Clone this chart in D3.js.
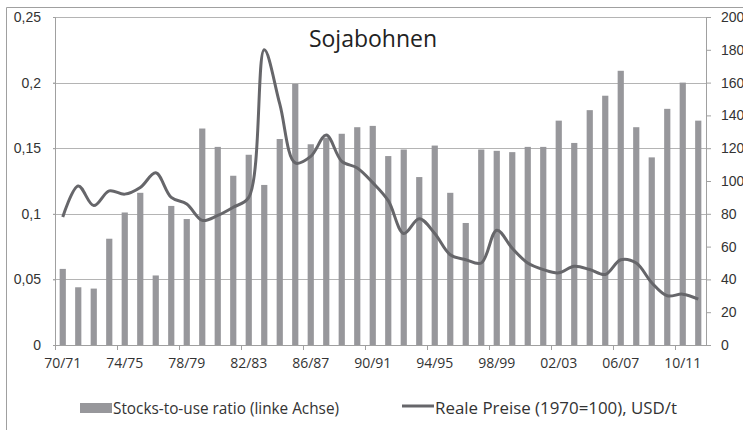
<!DOCTYPE html>
<html>
<head>
<meta charset="utf-8">
<script src="https://cdn.jsdelivr.net/npm/d3@7/dist/d3.min.js"></script>
<style>
    body { margin: 0; background: #fff; }
    svg { display: block; font-family: "Open Sans", "DejaVu Sans", sans-serif; }
</style>
</head>
<body>
<svg id="chart" width="743" height="430"></svg>
<script>
// marketing years 70/71 .. 11/12
const years = d3.range(1970, 2012).map(y => {
    const a = String(y % 100).padStart(2, "0");
    const b = String((y + 1) % 100).padStart(2, "0");
    return a + "/" + b;
});

// stocks-to-use ratio (left axis)
const ratio = [
    0.058, 0.044, 0.043, 0.081, 0.101, 0.116, 0.053, 0.106, 0.096, 0.165,
    0.151, 0.129, 0.145, 0.122, 0.157, 0.199, 0.153, 0.158, 0.161, 0.166,
    0.167, 0.144, 0.149, 0.128, 0.152, 0.116, 0.093, 0.149, 0.148, 0.147,
    0.151, 0.151, 0.171, 0.154, 0.179, 0.190, 0.209, 0.166, 0.143, 0.180,
    0.200, 0.171
];

// real prices (1970=100), USD/t (right axis)
const prices = [
    78, 97, 85, 94, 92, 96, 105, 90, 86, 76,
    79, 84, 90, 180, 147, 111, 115, 128, 112, 108,
    99, 88, 68, 77, 68, 55, 52, 50, 70, 59,
    50, 46, 44, 48, 46, 43, 52, 50, 38, 30,
    31, 28
];

const leftTicks = [0, 0.05, 0.1, 0.15, 0.2, 0.25];
const rightTicks = d3.range(0, 201, 20);
const title = "Sojabohnen";
const legendBars = "Stocks-to-use ratio (linke Achse)";
const legendLine = "Reale Preise (1970=100), USD/t";

const svg = d3.select("#chart");
const margin = {left: 55, right: 37, top: 17, bottom: 85};
const width = 743, height = 430;
const fmt = d => String(d).replace(".", ",");

// outer frame
svg.append("path")
    .attr("d", "M6.5,430 V7.5 H743")
    .attr("fill", "none")
    .attr("stroke", "#a0a0a0");

const x = d3.scaleBand()
    .domain(years)
    .range([margin.left, width - margin.right])
    .paddingInner(0.6)
    .paddingOuter(0.3);

const yL = d3.scaleLinear().domain([0, 0.25]).range([height - margin.bottom, margin.top]);
const yR = d3.scaleLinear().domain([0, 200]).range([height - margin.bottom, margin.top]);

// gridlines
svg.append("g")
    .selectAll("line")
    .data(leftTicks.slice(1))
    .join("line")
    .attr("x1", margin.left - 2)
    .attr("x2", width - margin.right)
    .attr("y1", d => Math.round(yL(d)) + 0.5)
    .attr("y2", d => Math.round(yL(d)) + 0.5)
    .attr("stroke", "#b4b4b4");

// bars
const step = x.step();
svg.append("g")
    .selectAll("rect")
    .data(ratio)
    .join("rect")
    .attr("x", (d, i) => x(years[i]))
    .attr("y", d => yL(d))
    .attr("width", x.bandwidth())
    .attr("height", d => yL(0) - yL(d))
    .attr("fill", "#97979b");

// price line
const line = d3.line()
    .x((d, i) => x(years[i]) + x.bandwidth() / 2)
    .y(d => yR(d))
    .curve(d3.curveCatmullRom.alpha(0.5));

svg.append("path")
    .datum(prices)
    .attr("d", line)
    .attr("fill", "none")
    .attr("stroke", "#66666a")
    .attr("stroke-width", 3)
    .attr("stroke-linejoin", "round");

// left axis
const gL = svg.append("g")
    .attr("transform", `translate(${margin.left},0)`)
    .call(d3.axisLeft(yL).tickValues(leftTicks).tickFormat(fmt).tickSize(2).tickPadding(12));
gL.select(".domain").attr("stroke", "#a0a0a0");
gL.selectAll(".tick line").attr("stroke", "#a0a0a0");
gL.selectAll("text").attr("font-size", 14).attr("fill", "#333");

// right axis
const gR = svg.append("g")
    .attr("transform", `translate(${width - margin.right},0)`)
    .call(d3.axisRight(yR).tickValues(rightTicks).tickSize(5).tickPadding(10));
gR.select(".domain").attr("stroke", "#a0a0a0");
gR.selectAll(".tick line").attr("stroke", "#a0a0a0");
gR.selectAll("text").attr("font-size", 14).attr("fill", "#333");

// x axis: ticks at band edges, labels centered on every 4th bar
const gX = svg.append("g").attr("transform", `translate(0,${height - margin.bottom})`);
gX.append("line")
    .attr("x1", margin.left).attr("x2", width - margin.right)
    .attr("y1", 0.5).attr("y2", 0.5)
    .attr("stroke", "#a0a0a0");
const shown = years.filter((d, i) => i % 4 === 0);
gX.selectAll(".xtick")
    .data(shown)
    .join("line")
    .attr("class", "xtick")
    .attr("x1", d => Math.round(x(d) - x.paddingOuter() * step) + 0.5)
    .attr("x2", d => Math.round(x(d) - x.paddingOuter() * step) + 0.5)
    .attr("y1", 0).attr("y2", 5)
    .attr("stroke", "#a0a0a0");
gX.selectAll(".xlab")
    .data(shown)
    .join("text")
    .attr("class", "xlab")
    .attr("x", d => x(d) + x.bandwidth() / 2)
    .attr("y", 23)
    .attr("text-anchor", "middle")
    .attr("font-size", 14)
    .attr("fill", "#333")
    .text(d => d);

// title
svg.append("text")
    .attr("x", 373)
    .attr("y", 47)
    .attr("text-anchor", "middle")
    .attr("font-size", 23)
    .attr("fill", "#222")
    .text(title);

// legend
const lg = svg.append("g").attr("font-size", 16).attr("fill", "#333");
lg.append("rect").attr("x", 80).attr("y", 403).attr("width", 32).attr("height", 10).attr("fill", "#97979b");
lg.append("text").attr("x", 113).attr("y", 414).attr("textLength", 226).attr("lengthAdjust", "spacingAndGlyphs").text(legendBars);
lg.append("line").attr("x1", 402).attr("x2", 434).attr("y1", 406).attr("y2", 406).attr("stroke", "#66666a").attr("stroke-width", 3);
lg.append("text").attr("x", 435).attr("y", 414).attr("textLength", 242).attr("lengthAdjust", "spacingAndGlyphs").text(legendLine);
</script>
</body>
</html>
